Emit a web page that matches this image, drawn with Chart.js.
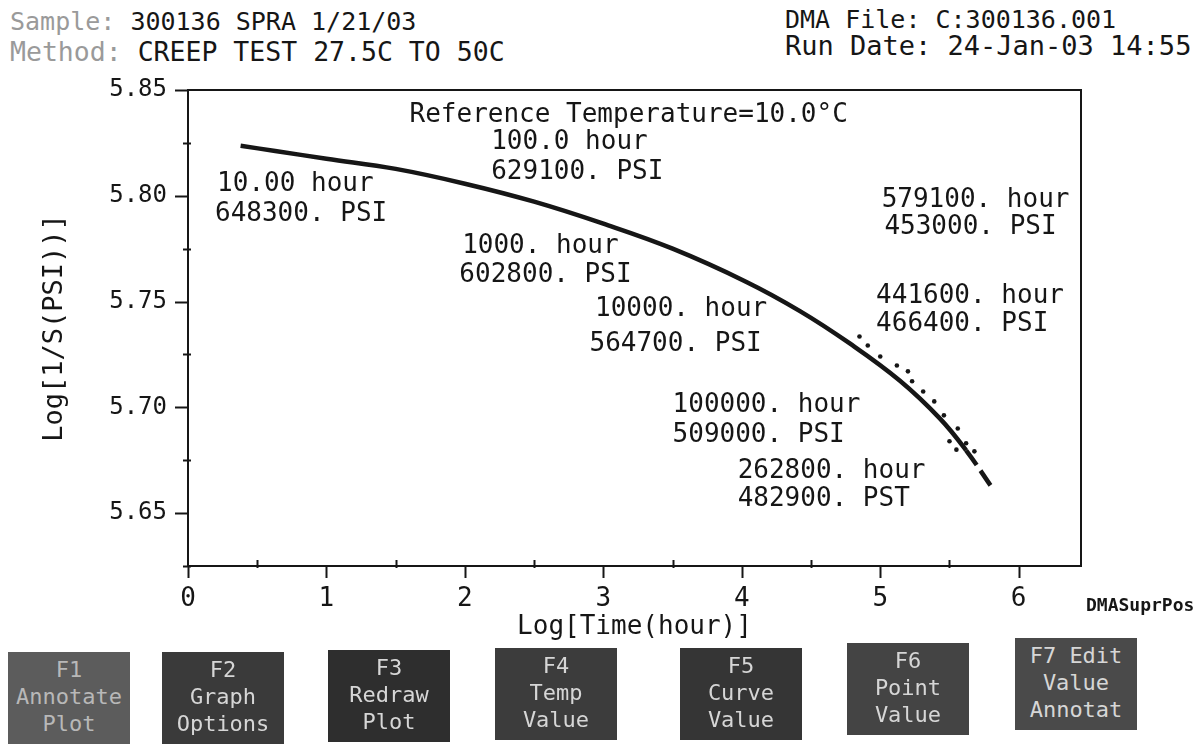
<!DOCTYPE html>
<html>
<head>
<meta charset="utf-8">
<script src="https://cdn.jsdelivr.net/npm/chart.js@4.4.1/dist/chart.umd.min.js"></script>
<style>
  html, body { margin: 0; padding: 0; background: #fff; }
  body { width: 1202px; height: 744px; position: relative; overflow: hidden; font-family: 'DejaVu Sans Mono', monospace; color: #161616; }
  #chart { position: absolute; left: 0; top: 0; }
  .hdr { position: absolute; font-size: 25px; line-height: 25px; white-space: pre; }
  .faded { color: #9a9a9a; }
  .tag { position: absolute; left: 1086px; top: 594px; font-size: 18px; font-weight: bold; white-space: pre; }
  .btn { position: absolute; width: 122px; height: 92px; background: #3b3b3b; color: #d6d6d6;
         font-size: 22px; line-height: 27px; text-align: center; box-sizing: border-box; padding-top: 4px; white-space: pre; }
</style>
</head>
<body>
<div class="hdr" style="left:10px; top:9px;"><span class="faded">Sample:</span> 300136 SPRA 1/21/03</div>
<div class="hdr" style="left:10px; top:39px; font-size:26.5px;"><span class="faded">Method:</span> CREEP TEST 27.5C TO 50C</div>
<div class="hdr" style="left:785px; top:7px;">DMA File: C:300136.001</div>
<div class="hdr" style="left:785px; top:33px; font-size:27px;">Run Date: 24-Jan-03 14:55</div>
<canvas id="chart" width="1202" height="744"></canvas>
<div class="tag">DMASuprPos</div>
<div id="buttons"></div>
<script>
// master curve, Log[Time(hour)] vs Log[1/S(PSI)]
const curveX = [0.38, 0.63, 1.0, 1.5, 2.0, 2.5, 3.0, 3.5, 4.03, 4.42, 4.78, 5.14, 5.43, 5.62, 5.81];
const curveY = [5.8236, 5.8212, 5.8175, 5.8127, 5.8057, 5.7972, 5.7868, 5.775, 5.7594, 5.7455, 5.7302, 5.7127, 5.6948, 5.6797, 5.6618];

// scattered points near the end of the curve
const dotX = [4.85, 4.91, 5.00, 5.12, 5.20, 5.23, 5.31, 5.39, 5.46, 5.50, 5.56, 5.62, 5.68, 5.55];
const dotY = [5.7335, 5.7292, 5.724, 5.7198, 5.717, 5.7123, 5.7075, 5.7028, 5.6962, 5.684, 5.690, 5.683, 5.6792, 5.680];

// annotations: text and anchor in data units
const noteText = ['Reference Temperature=10.0\u00B0C',
  '100.0 hour', '629100. PSI', '10.00 hour', '648300. PSI', '1000. hour', '602800. PSI',
  '10000. hour', '564700. PSI', '100000. hour', '509000. PSI', '262800. hour', '482900. PST',
  '579100. hour', '453000. PSI', '441600. hour', '466400. PSI'];
const noteX = [1.60, 2.19, 2.19, 0.21, 0.195, 1.98, 1.96, 2.94, 2.90, 3.50, 3.50, 3.97, 3.97, 5.01, 5.03, 4.97, 4.97];
const noteY = [5.8443, 5.8316, 5.8175, 5.8118, 5.7976, 5.7825, 5.7684, 5.7524, 5.7358, 5.7071, 5.6929, 5.6759, 5.6627, 5.8042, 5.7915, 5.7585, 5.7453];

const buttonText = ['F1\nAnnotate\nPlot', 'F2\nGraph\nOptions', 'F3\nRedraw\nPlot', 'F4\nTemp\nValue',
  'F5\nCurve\nValue', 'F6\nPoint\nValue', 'F7 Edit\nValue\nAnnotat'];

// function key boxes
const btnLeft = [8, 162, 328, 495, 680, 847, 1015];
const btnTop = [652, 652, 650, 648, 648, 643, 638];
const btnBg = ['#5c5c5c', '#3a3a3a', '#2e2e2e', '#3c3c3c', '#353535', '#444', '#4a4a4a'];
const holder = document.getElementById('buttons');
buttonText.forEach((t, i) => {
    const d = document.createElement('div');
    d.className = 'btn';
    d.style.left = btnLeft[i] + 'px';
    d.style.top = btnTop[i] + 'px';
    d.style.background = btnBg[i];
    if (i === 0) d.style.color = '#b8b8b8';
    d.textContent = t;
    holder.appendChild(d);
});

const INK = '#161616';
const FONT = "'DejaVu Sans Mono', monospace";

const framePlugin = {
    id: 'frame',
    afterDraw(chart) {
        const {ctx, chartArea: a, scales: {x, y}} = chart;
        ctx.save();
        ctx.strokeStyle = INK;
        ctx.lineWidth = 2;
        ctx.strokeRect(a.left, a.top, a.right - a.left, a.bottom - a.top);
        // y ticks
        y.ticks.forEach(t => {
            const py = Math.round(y.getPixelForValue(t.value)) + 0.5;
            const major = Math.round(t.value * 1000) % 50 === 0;
            ctx.beginPath();
            if (major) { ctx.moveTo(a.left - 13, py); ctx.lineTo(a.left, py); }
            else { ctx.moveTo(a.left - 5, py); ctx.lineTo(a.left + 3, py); }
            ctx.stroke();
        });
        // x ticks
        x.ticks.forEach(t => {
            const px = Math.round(x.getPixelForValue(t.value)) + 0.5;
            const major = Math.abs(t.value - Math.round(t.value)) < 1e-6;
            ctx.beginPath();
            if (major) { ctx.moveTo(px, a.bottom); ctx.lineTo(px, a.bottom + 12); }
            else { ctx.moveTo(px, a.bottom - 6); ctx.lineTo(px, a.bottom + 2); }
            ctx.stroke();
        });
        ctx.restore();
    },
    afterDatasetsDraw(chart) {
        const {ctx, scales: {x, y}} = chart;
        ctx.save();
        ctx.fillStyle = INK;
        ctx.font = '26px ' + FONT;
        ctx.textBaseline = 'top';
        noteText.forEach((t, i) => {
            ctx.fillText(t, x.getPixelForValue(noteX[i]), y.getPixelForValue(noteY[i]));
        });
        ctx.restore();
    }
};

const lastSeg = curveX.length - 2;

new Chart(document.getElementById('chart'), {
    type: 'scatter',
    data: {
        datasets: [{
            type: 'line',
            data: curveX.map((v, i) => ({x: v, y: curveY[i]})),
            borderColor: INK,
            borderWidth: 4.5,
            pointRadius: 0,
            tension: 0.4,
            fill: false,
            segment: { borderDash: c => c.p0DataIndex >= lastSeg ? [18, 7] : undefined }
        }, {
            data: dotX.map((v, i) => ({x: v, y: dotY[i]})),
            backgroundColor: INK,
            borderWidth: 0,
            pointRadius: 2.3
        }]
    },
    options: {
        responsive: false,
        animation: false,
        layout: { padding: { left: 0, top: 90, right: 121, bottom: 100 } },
        plugins: { legend: { display: false }, tooltip: { enabled: false } },
        scales: {
            x: {
                type: 'linear', min: 0, max: 6.45,
                afterFit(s) { s.height = 78; },
                border: { display: false },
                grid: { display: false },
                ticks: {
                    stepSize: 0.5, includeBounds: false, padding: 10, maxRotation: 0, autoSkip: false,
                    color: INK, font: { family: FONT, size: 26 },
                    callback: v => Math.abs(v - Math.round(v)) < 1e-6 ? String(Math.round(v)) : ''
                },
                title: {
                    display: true, text: 'Log[Time(hour)]', color: INK,
                    font: { family: FONT, size: 26 }, padding: { top: 0, bottom: 1 }
                }
            },
            y: {
                type: 'linear', min: 5.625, max: 5.85,
                afterFit(s) { s.width = 188; },
                border: { display: false },
                grid: { display: false },
                ticks: {
                    stepSize: 0.025, includeBounds: false, padding: 13, autoSkip: false,
                    color: INK, font: { family: FONT, size: 24 },
                    callback: v => Math.round(v * 1000) % 50 === 0 ? v.toFixed(2) : ''
                },
                title: {
                    display: true, text: 'Log[1/S(PSI))]', color: INK,
                    font: { family: FONT, size: 27 }, padding: { top: 39, bottom: 0 }
                }
            }
        }
    },
    plugins: [framePlugin]
});
</script>
</body>
</html>
